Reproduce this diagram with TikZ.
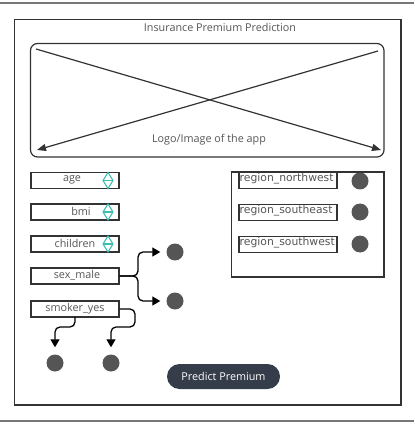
\documentclass[tikz,border=0pt]{standalone}
\usepackage{fontspec}
\setmainfont{Open Sans}
\newfontfamily\regfont{DejaVu Sans}
\usetikzlibrary{arrows.meta,calc}
\definecolor{txtgray}{HTML}{555555}
\definecolor{linegray}{HTML}{333333}
\definecolor{rulegray}{HTML}{777777}
\definecolor{dotgray}{HTML}{555555}
\definecolor{spincol}{HTML}{3DBDB3}
\definecolor{btn}{HTML}{353C4A}
\tikzset{
  frame/.style={draw=linegray, line width=1.2pt},
  field/.style={draw=linegray, line width=1.2pt, minimum width=88pt, minimum height=16pt, inner sep=0pt},
  lbl/.style={text=txtgray, font=\fontsize{10.8}{12}\selectfont, inner sep=0pt},
  rlbl/.style={text=txtgray, font=\regfont\fontsize{10.8}{12}\selectfont, inner sep=0pt, anchor=west},
  dot/.style={circle, fill=dotgray, minimum size=17pt, inner sep=0pt},
  conn/.style={draw=black, line width=1.3pt, rounded corners=5pt, -{Triangle[length=8pt,width=9pt]}},
  cross/.style={draw=linegray, line width=1.2pt, -{Triangle[length=9pt,width=7pt]}},
  rfield/.style={draw=linegray, line width=1.2pt, minimum width=98pt, minimum height=16.5pt, inner sep=0pt},
  spin/.style={draw=spincol, line width=1.1pt},
}
\newcommand{\spinner}[1]{%
  \draw[spin] ($(#1)+(0,-8)$) -- ($(#1)+(5,0)$) -- ($(#1)+(0,8)$) -- ($(#1)+(-5,0)$) -- cycle;
  \draw[spin] ($(#1)+(-5,0)$) -- ($(#1)+(5,0)$);
}
\begin{document}
\begin{tikzpicture}[x=1pt,y=-1pt]
\useasboundingbox (0,0) rectangle (414,427);
% page rules
\draw[rulegray, line width=1.5pt] (0,3) -- (414,3);
\draw[rulegray, line width=1.5pt] (0,421) -- (414,421);
% outer frame
\draw[frame] (14.5,19.5) rectangle (401,405);
\node[lbl] (title) at (220,27) {Insurance Premium Prediction};
% logo box
\draw[frame, rounded corners=7pt] (30.5,43.5) rectangle (384,157);
\coordinate (c1s) at (36,49);
\coordinate (c1e) at (381,150);
\coordinate (c2s) at (378,51);
\coordinate (c2e) at (37,150);
\draw[cross] (c1s) -- (c1e);
\draw[cross] (c2s) -- (c2e);
\node[lbl] (logo) at (209,140) {Logo/Image of the app};
% left fields
\node[field] (age) at (75,180.5) {};
\node[lbl] at (72,180) {age};
\coordinate (sp1) at (108,180.5);
\spinner{sp1}
\node[field] (bmi) at (75,212) {};
\node[lbl] at (81,211.5) {bmi};
\coordinate (sp2) at (108,212);
\spinner{sp2}
\node[field] (children) at (75,244) {};
\node[lbl] at (75,243.5) {children};
\coordinate (sp3) at (108,244);
\spinner{sp3}
\node[field] (sex) at (75,276) {};
\node[lbl] at (77,275.5) {sex\_male};
\node[field] (smoker) at (75,309) {};
\node[lbl] at (75,308.5) {smoker\_yes};
% dots
\node[dot] (sexa) at (175,252) {};
\node[dot] (sexb) at (175,301) {};
\node[dot] (smka) at (55,363) {};
\node[dot] (smkb) at (111,363) {};
% connectors
\draw[conn] (sex.east) -- (138,276) -- (138,252) -- ($(sexa.west)+(-6,0)$);
\draw[conn] (sex.east) -- (138,276) -- (138,301) -- ($(sexb.west)+(-6,0)$);
\draw[conn] (75,317) -- (75,327) -- (55,327) -- ($(smka.north)+(0,-7)$);
\draw[conn] (smoker.east) -- (135,309) -- (135,327) -- (111,327) -- ($(smkb.north)+(0,-7)$);
% region box
\draw[frame] (231.5,172) rectangle (384,277);
\node[rfield] (rnw) at (288,180) {};
\node[rlbl] at (239.5,178.5) {region\_northwest};
\node[rfield] (rse) at (288,212.5) {};
\node[rlbl] at (239.5,210.5) {region\_southeast};
\node[rfield] (rsw) at (288,244.5) {};
\node[rlbl] at (239.5,243) {region\_southwest};
\node[dot] (dnw) at (360,181) {};
\node[dot] (dse) at (360,212) {};
\node[dot] (dsw) at (360,244) {};
% button
\node[fill=btn, rounded corners=12.5pt, minimum width=113pt, minimum height=25pt, inner sep=0pt,
      text=white, font=\fontsize{10.8}{12}\selectfont] (predict) at (223.5,376.5) {Predict Premium};
\end{tikzpicture}
\end{document}
